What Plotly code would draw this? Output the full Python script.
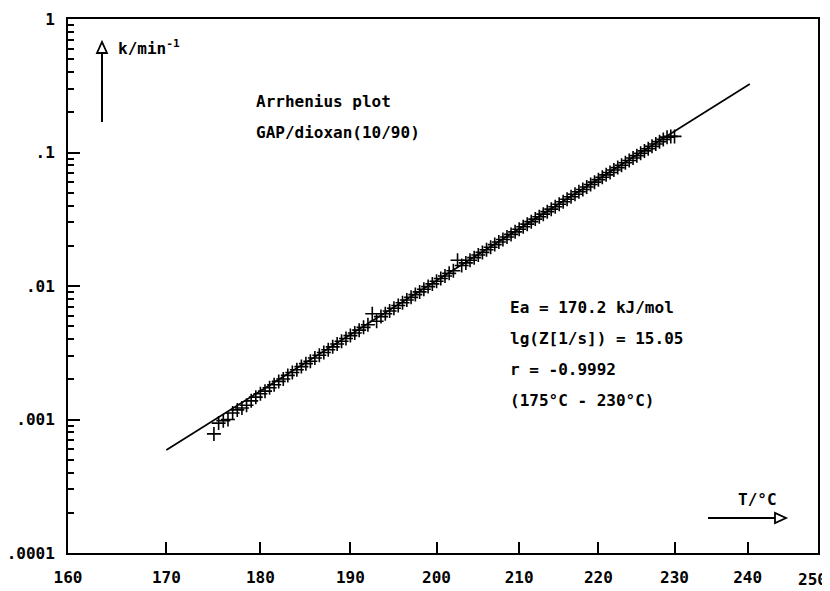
import plotly.graph_objects as go

# ---- data ----
meas_T = [175.0, 175.5, 176.0, 176.5, 177.0, 177.5, 178.0, 178.5, 179.0, 179.5,
          180.0, 180.5, 181.0, 181.5, 182.0, 182.5, 183.0, 183.5, 184.0, 184.5,
          185.0, 185.5, 186.0, 186.5, 187.0, 187.5, 188.0, 188.5, 189.0, 189.5,
          190.0, 190.5, 191.0, 191.5, 192.0, 192.5, 193.0, 193.5, 194.0, 194.5,
          195.0, 195.5, 196.0, 196.5, 197.0, 197.5, 198.0, 198.5, 199.0, 199.5,
          200.0, 200.5, 201.0, 201.5, 202.0, 202.5, 203.0, 203.5, 204.0, 204.5,
          205.0, 205.5, 206.0, 206.5, 207.0, 207.5, 208.0, 208.5, 209.0, 209.5,
          210.0, 210.5, 211.0, 211.5, 212.0, 212.5, 213.0, 213.5, 214.0, 214.5,
          215.0, 215.5, 216.0, 216.5, 217.0, 217.5, 218.0, 218.5, 219.0, 219.5,
          220.0, 220.5, 221.0, 221.5, 222.0, 222.5, 223.0, 223.5, 224.0, 224.5,
          225.0, 225.5, 226.0, 226.5, 227.0, 227.5, 228.0, 228.5, 229.0, 229.5,
          230.0]
meas_k = [0.00078, 0.00094, 0.00098, 0.00100, 0.00112, 0.00118, 0.00122, 0.00128, 0.00138, 0.00147,
          0.00156, 0.00163, 0.00173, 0.00182, 0.00193, 0.00201, 0.00214, 0.00225, 0.00236, 0.00249,
          0.00262, 0.00273, 0.00289, 0.00303, 0.00318, 0.00333, 0.00350, 0.00368, 0.00386, 0.00404,
          0.00425, 0.00444, 0.00467, 0.00490, 0.00513, 0.00620, 0.00545, 0.00590, 0.00620, 0.00650,
          0.00682, 0.00715, 0.00750, 0.00786, 0.00822, 0.00862, 0.00903, 0.00945, 0.00990, 0.01037,
          0.01086, 0.01137, 0.01188, 0.01244, 0.01302, 0.01560, 0.01425, 0.01490, 0.01560, 0.01630,
          0.01708, 0.01785, 0.01868, 0.01952, 0.02043, 0.02135, 0.02230, 0.02330, 0.02435, 0.02545,
          0.02663, 0.02782, 0.02905, 0.03035, 0.03170, 0.03305, 0.03452, 0.03605, 0.03765, 0.03925,
          0.04100, 0.04272, 0.04462, 0.04660, 0.04870, 0.05075, 0.05288, 0.05510, 0.05755, 0.05995,
          0.06262, 0.06525, 0.06800, 0.07085, 0.07398, 0.07710, 0.08035, 0.08372, 0.08722, 0.09088,
          0.09470, 0.09865, 0.1028, 0.1068, 0.1112, 0.1158, 0.1206, 0.1253, 0.1303, 0.1320,
          0.1320]

fit_T = [170.0, 240.3]
fit_k = [0.00059, 0.326]

x_ticks_T = [160, 170, 180, 190, 200, 210, 220, 230, 240, 250]
y_tick_vals = [0.0001, 0.001, 0.01, 0.1, 1]
y_tick_text = [".0001", ".001", ".01", ".1", "1"]

info_lines = ["Ea = 170.2 kJ/mol", "lg(Z[1/s]) = 15.05", "r = -0.9992", "(175°C - 230°C)"]
title_lines = ["Arrhenius plot", "GAP/dioxan(10/90)"]


def inv_T(t):
    # Arrhenius abscissa: 1000/T(K), axis reversed so temperature increases to the right
    return 1000.0 / (t + 273.15)


FONT = "DejaVu Sans Mono"
fnt = dict(family=FONT, size=16, color="black", weight="bold")

fig = go.Figure()
fig.add_trace(go.Scatter(x=[inv_T(t) for t in fit_T], y=fit_k, mode="lines",
                         line=dict(color="black", width=1.7), showlegend=False))
fig.add_trace(go.Scatter(x=[inv_T(t) for t in meas_T], y=meas_k, mode="markers",
                         marker=dict(symbol="cross-thin", size=10,
                                     line=dict(color="black", width=1.6)),
                         showlegend=False))

minor_vals = [m * 10 ** e for e in range(-4, 0) for m in range(2, 10)]

# the page body adds an 8px offset; figure is sized so the plot box lands at
# page x 68..818, y 19..553
OFF = 8
W, H = 830 - OFF, 591 - OFF
L, R, T, B = 60, 12, 11, 38
PW, PH = W - L - R, H - T - B


def px(x):
    # page pixel -> paper coordinate
    return (x - OFF - L) / PW


def py(y):
    return (OFF + T + PH - y) / PH


# last tick label sits at the page edge: drawn right-aligned so it stays visible
x_tick_text = [str(t) for t in x_ticks_T[:-1]] + [""]

fig.update_layout(
    width=W, height=H,
    margin=dict(l=L, r=R, t=T, b=B, autoexpand=False),
    plot_bgcolor="white", paper_bgcolor="white",
    font=fnt,
    xaxis=dict(range=[inv_T(160), inv_T(250)],
               automargin=False,
               tickmode="array",
               tickvals=[inv_T(t) for t in x_ticks_T],
               ticktext=x_tick_text,
               ticks="inside", ticklen=11, tickwidth=2, tickcolor="black",
               showline=True, linewidth=2, linecolor="black", mirror=True,
               showgrid=False, zeroline=False,
               ticklabelstandoff=9,
               tickfont=fnt),
    yaxis=dict(type="log", range=[-4, 0],
               automargin=False,
               tickmode="array", tickvals=y_tick_vals, ticktext=y_tick_text,
               ticks="inside", ticklen=12, tickwidth=2, tickcolor="black",
               minor=dict(tickmode="array", tickvals=minor_vals, ticks="inside",
                          ticklen=6, tickwidth=1.5, tickcolor="black", showgrid=False),
               showline=True, linewidth=2, linecolor="black", mirror=True,
               showgrid=False, zeroline=False,
               ticklabelstandoff=8,
               tickfont=fnt),
)

ann = []
ann.append(dict(x=px(829), y=py(579), xref="paper", yref="paper", xanchor="right", yanchor="middle",
                text=str(x_ticks_T[-1]), showarrow=False, font=fnt))
ann.append(dict(x=px(116), y=py(47), xref="paper", yref="paper", xanchor="left", yanchor="middle",
                text="k/min<sup>-1</sup>", showarrow=False, font=fnt))
ann.append(dict(x=px(254), y=py(101), xref="paper", yref="paper", xanchor="left", yanchor="middle",
                text=title_lines[0], showarrow=False, font=fnt))
ann.append(dict(x=px(254), y=py(133), xref="paper", yref="paper", xanchor="left", yanchor="middle",
                text=title_lines[1], showarrow=False, font=fnt))
for i, s in enumerate(info_lines):
    ann.append(dict(x=px(508), y=py(307 + 31 * i), xref="paper", yref="paper",
                    xanchor="left", yanchor="middle", text=s, showarrow=False, font=fnt))
ann.append(dict(x=px(757), y=py(499), xref="paper", yref="paper", xanchor="center", yanchor="middle",
                text="T/°C", showarrow=False, font=fnt))
fig.update_layout(annotations=ann)

shapes = []
# vertical arrow (k axis)
shapes.append(dict(type="line", xref="paper", yref="paper", x0=px(102), x1=px(102),
                   y0=py(122), y1=py(53), line=dict(color="black", width=2)))
shapes.append(dict(type="path", xref="paper", yref="paper",
                   path=f"M {px(97)} {py(53)} L {px(107)} {py(53)} L {px(102)} {py(42)} Z",
                   fillcolor="white", line=dict(color="black", width=1.8)))
# horizontal arrow (T axis)
shapes.append(dict(type="line", xref="paper", yref="paper", x0=px(708), x1=px(775),
                   y0=py(518), y1=py(518), line=dict(color="black", width=2)))
shapes.append(dict(type="path", xref="paper", yref="paper",
                   path=f"M {px(775)} {py(513)} L {px(775)} {py(523)} L {px(786)} {py(518)} Z",
                   fillcolor="white", line=dict(color="black", width=1.8)))
fig.update_layout(shapes=shapes)

fig.write_html("out.html")
